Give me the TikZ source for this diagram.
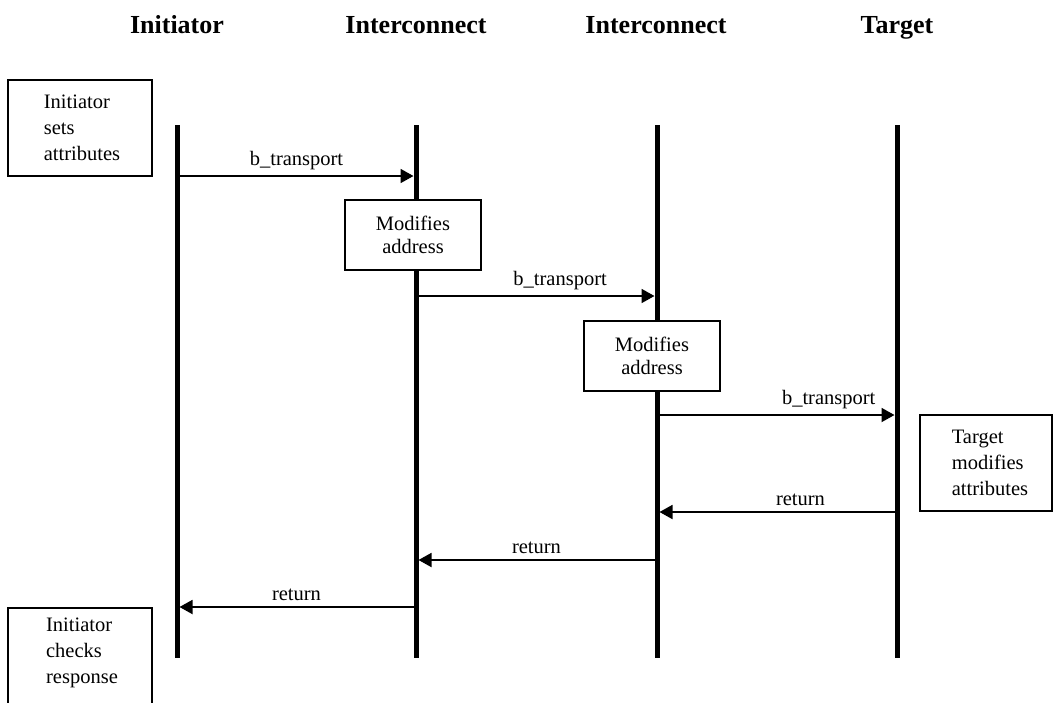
\documentclass[tikz,border=0pt]{standalone}
\usepackage{fontspec}
\setmainfont{Liberation Serif}
\usetikzlibrary{arrows.meta}
\begin{document}
\begin{tikzpicture}[x=1pt,y=-1pt,
  lifeline/.style={line width=5pt},
  msg/.style={line width=1.8pt,-{Triangle[length=13pt,width=14pt]}},
  msglabel/.style={font=\fontsize{20.5}{24}\selectfont,above,inner sep=5pt},
  header/.style={font=\fontsize{26}{30}\selectfont\bfseries,anchor=base},
  notebox/.style={draw,fill=white,line width=1.8pt,font=\fontsize{20.5}{26}\selectfont,align=left,inner sep=0pt},
  actbox/.style={draw,fill=white,line width=1.8pt,font=\fontsize{20.5}{23}\selectfont,align=center,inner sep=0pt,minimum width=136pt,minimum height=70pt}]
\useasboundingbox (0,0) rectangle (1054,702);
\clip (0,0) rectangle (1054,702);
% headers
\node[header] (h1) at (177,33) {Initiator};
\node[header] (h2) at (416,33) {Interconnect};
\node[header] (h3) at (656,33) {Interconnect};
\node[header] (h4) at (897,33) {Target};
% lifelines
\coordinate (L1t) at (177,125); \coordinate (L1b) at (177,658);
\coordinate (L2t) at (416,125); \coordinate (L2b) at (416,658);
\coordinate (L3t) at (657,125); \coordinate (L3b) at (657,658);
\coordinate (L4t) at (897,125); \coordinate (L4b) at (897,658);
\draw[lifeline] (L1t) -- (L1b);
\draw[lifeline] (L2t) -- (L2b);
\draw[lifeline] (L3t) -- (L3b);
\draw[lifeline] (L4t) -- (L4b);
% boxes
\node[notebox,minimum width=144pt,minimum height=96pt] (n1) at (80,128) {\hspace*{4pt}Initiator\\\hspace*{4pt}sets\\\hspace*{4pt}attributes};
\node[actbox] (m1) at (413,235) {Modifies\\address};
\node[actbox] (m2) at (652,356) {Modifies\\address};
\node[notebox,minimum width=132pt,minimum height=96pt] (n2) at (986,463) {\hspace*{8pt}Target\\\hspace*{8pt}modifies\\\hspace*{8pt}attributes};
\node[notebox,minimum width=144pt,minimum height=110pt,anchor=north] (n3) at (80,607) {\hspace*{4pt}Initiator\\\hspace*{4pt}checks\\\hspace*{4pt}response\\[-2pt]};
% message points
\coordinate (a1s) at (179.5,176); \coordinate (a1e) at (413.5,176);
\coordinate (a2s) at (418.5,296); \coordinate (a2e) at (654.5,296);
\coordinate (a3s) at (659.5,415); \coordinate (a3e) at (894.5,415);
\coordinate (r1s) at (894.5,512); \coordinate (r1e) at (659.5,512);
\coordinate (r2s) at (654.5,560); \coordinate (r2e) at (418.5,560);
\coordinate (r3s) at (413.5,607); \coordinate (r3e) at (179.5,607);
\draw[msg] (a1s) -- node[msglabel] {b\_transport} (a1e);
\draw[msg] (a2s) -- node[msglabel,pos=0.6] {b\_transport} (a2e);
\draw[msg] (a3s) -- node[msglabel,pos=0.72] {b\_transport} (a3e);
\draw[msg] (r1s) -- node[msglabel,pos=0.4] {return} (r1e);
\draw[msg] (r2s) -- node[msglabel,pos=0.5] {return} (r2e);
\draw[msg] (r3s) -- node[msglabel,pos=0.5] {return} (r3e);
\end{tikzpicture}
\end{document}
